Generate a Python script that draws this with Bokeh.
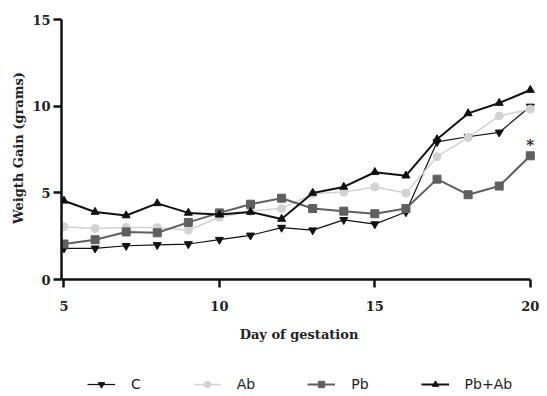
from bokeh.plotting import figure
from bokeh.layouts import column
from bokeh.models import Range1d, FixedTicker, Legend, LegendItem, ColumnDataSource
from bokeh.core.properties import value
from bokeh.embed import file_html
from bokeh.resources import INLINE

days = [5, 6, 7, 8, 9, 10, 11, 12, 13, 14, 15, 16, 17, 18, 19, 20]
c_vals = [1.8, 1.8, 1.95, 2.0, 2.05, 2.3, 2.55, 3.0, 2.85, 3.45, 3.2, 3.9, 7.95, 8.25, 8.5, 10.0]
ab_vals = [3.05, 2.95, 3.0, 3.0, 2.85, 3.6, 3.95, 4.1, 4.95, 5.05, 5.35, 5.0, 7.1, 8.2, 9.45, 9.85]
pb_vals = [2.05, 2.3, 2.75, 2.7, 3.3, 3.85, 4.35, 4.7, 4.1, 3.95, 3.8, 4.1, 5.8, 4.9, 5.4, 7.15]
pbab_vals = [4.55, 3.9, 3.7, 4.4, 3.85, 3.75, 3.9, 3.5, 5.0, 5.35, 6.2, 6.0, 8.1, 9.6, 10.2, 10.95]
series_names = ["C", "Ab", "Pb", "Pb+Ab"]
x_ticks = [5, 10, 15, 20]
y_ticks = [0, 5, 10, 15]
sig_day = [20]
sig_y = [7.8]
sig_text = ["*"]

src = ColumnDataSource(dict(day=days, c=c_vals, ab=ab_vals, pb=pb_vals, pbab=pbab_vals))

styles = [
    ("c", "inverted_triangle", "#111111", 1.2),
    ("ab", "circle", "#d2d2d2", 1.5),
    ("pb", "square", "#5f5f5f", 2.0),
    ("pbab", "triangle", "#111111", 2.0),
]


def add_series(fig, size):
    out = []
    for col, marker, color, lw in styles:
        ln = fig.line("day", col, source=src, line_color=color, line_width=lw)
        sc = fig.scatter("day", col, source=src, marker=marker, size=size,
                         fill_color=color, line_color=color)
        out.append([ln, sc])
    return out


p = figure(width=540, height=356, output_backend="svg", toolbar_location=None,
           x_range=Range1d(4.92, 20.2), y_range=Range1d(0, 15.2),
           min_border_left=61, min_border_right=4, min_border_top=16, min_border_bottom=77)
p.outline_line_color = None
p.xgrid.grid_line_color = None
p.ygrid.grid_line_color = None

serif = "DejaVu Serif"
for ax in (p.xaxis[0], p.yaxis[0]):
    ax.axis_line_width = 2.5
    ax.axis_line_color = "#111111"
    ax.major_tick_line_width = 2.5
    ax.major_tick_line_color = "#111111"
    ax.major_tick_out = 8
    ax.major_tick_in = 0
    ax.minor_tick_out = 0
    ax.minor_tick_in = 0
    ax.major_label_text_font = serif
    ax.major_label_text_font_style = "bold"
    ax.major_label_text_font_size = "13px"
    ax.major_label_text_color = "#222222"
    ax.axis_label_text_font = serif
    ax.axis_label_text_font_style = "bold"
    ax.axis_label_text_font_size = "13px"
    ax.axis_label_text_color = "#222222"

p.xaxis.ticker = FixedTicker(ticks=x_ticks)
p.yaxis.ticker = FixedTicker(ticks=y_ticks)
p.xaxis.bounds = (4.92, x_ticks[-1])
p.yaxis.bounds = (y_ticks[0], y_ticks[-1])
p.xaxis.axis_label = "Day of gestation"
p.yaxis.axis_label = "Weigth Gain (grams)"
p.xaxis.major_label_standoff = 13
p.xaxis.axis_label_standoff = 13
p.yaxis.major_label_standoff = 3
p.yaxis.axis_label_standoff = 3

add_series(p, 8)

p.text(x=sig_day, y=sig_y, text=sig_text, text_font=value(serif), text_font_style="bold",
       text_font_size="15px", text_align="center", text_baseline="middle", text_color="#222222")

# legend strip below the chart (its series lie outside its own view)
lg = figure(width=540, height=38, output_backend="svg", toolbar_location=None,
            x_range=Range1d(0, 1), y_range=Range1d(0, 1), min_border=0)
lg.outline_line_color = None
lg.xaxis.visible = False
lg.yaxis.visible = False
lg.xgrid.grid_line_color = None
lg.ygrid.grid_line_color = None
lg_renderers = add_series(lg, 6)

legend = Legend(items=[LegendItem(label=name, renderers=r)
                       for name, r in zip(series_names, lg_renderers)],
                orientation="horizontal", location=(26, 2))
legend.border_line_color = None
legend.background_fill_alpha = 0
legend.padding = 0
legend.margin = 0
legend.spacing = 52
legend.glyph_width = 28
legend.glyph_height = 16
legend.label_height = 16
legend.label_width = 0
legend.label_standoff = 16
legend.label_text_font = "DejaVu Sans"
legend.label_text_font_size = "14px"
legend.label_text_color = "#222222"
lg.add_layout(legend, "center")

open("out.html", "w").write(file_html(column(p, lg), INLINE))
